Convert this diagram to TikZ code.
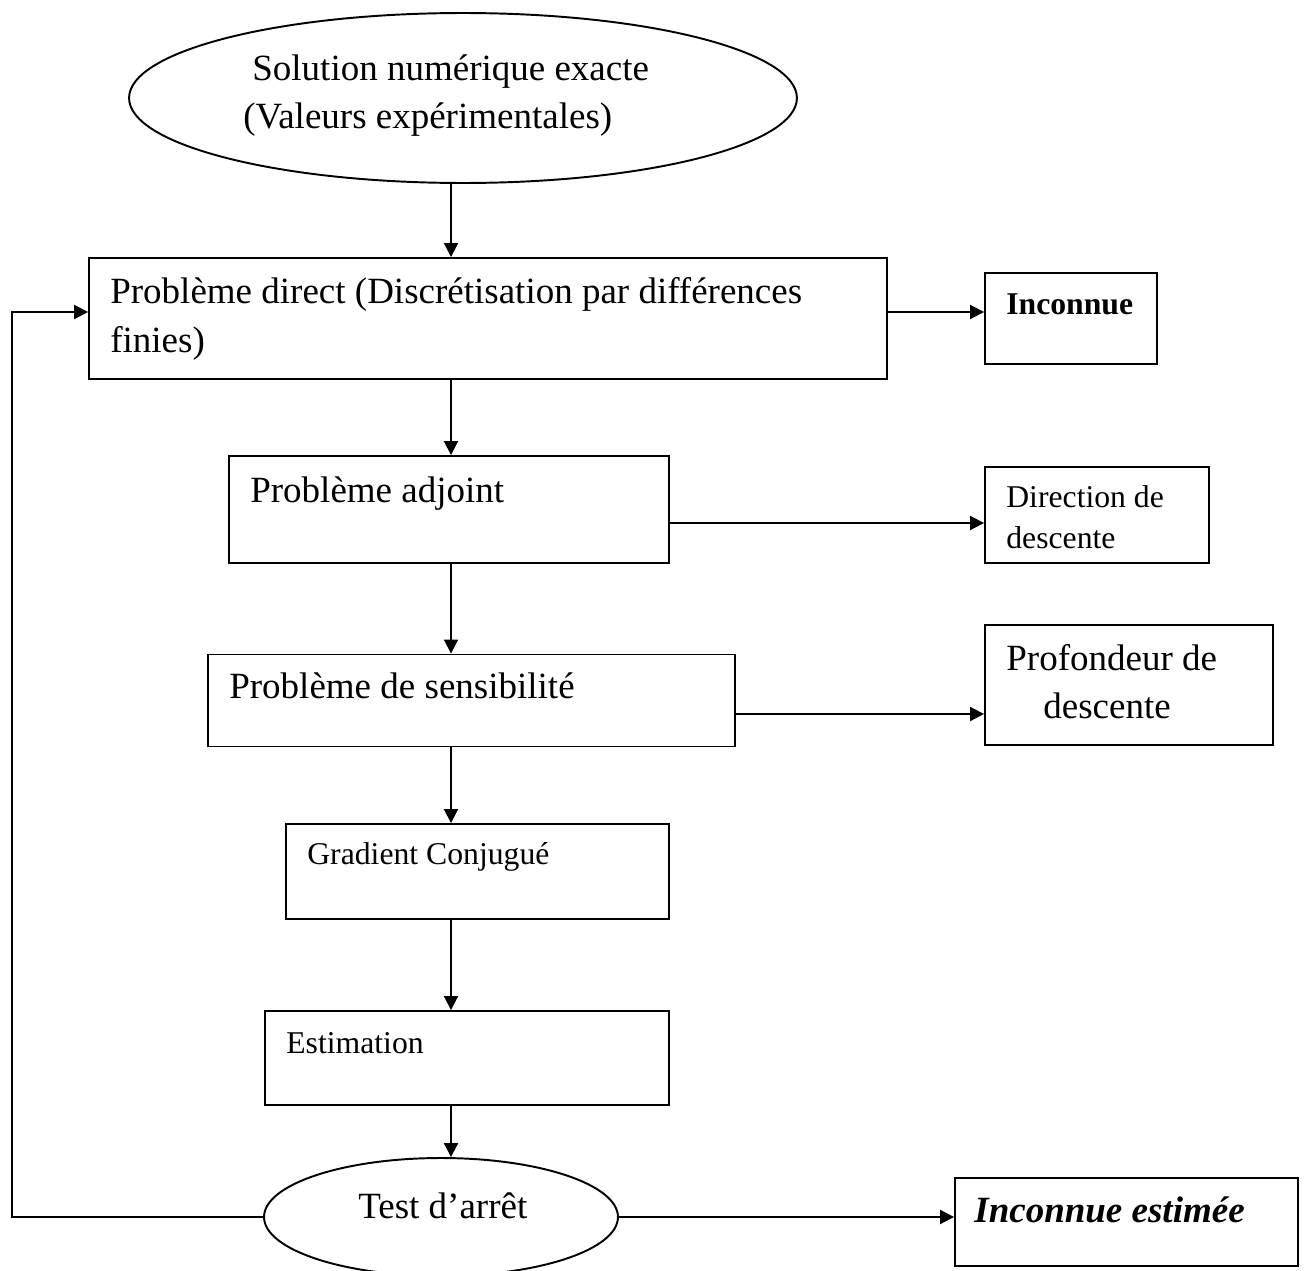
\documentclass[tikz,border=0pt]{standalone}
\usepackage{fontspec}
\setmainfont{Liberation Serif}
\usetikzlibrary{shapes.geometric,arrows.meta}

\newcommand{\bigfnt}{\fontsize{21.06}{27.9}\selectfont}
\newcommand{\smallfnt}{\fontsize{18.04}{23.3}\selectfont}

\begin{document}
\begin{tikzpicture}[x=0.02cm, y=-0.02cm,
    box/.style={draw, rectangle, line width=1.1pt, inner sep=0pt},
    oval/.style={draw, ellipse, line width=1.1pt, inner sep=0pt},
    lbl/.style={inner sep=0pt, anchor=base west, font=\bigfnt},
    slbl/.style={inner sep=0pt, anchor=base west, font=\smallfnt},
    flow/.style={line width=1.1pt, -{Triangle[length=0.28cm,width=0.28cm]}}]
    \useasboundingbox (0,0) rectangle (1306,1271);

    % shapes
    \node[oval, minimum width=13.36cm, minimum height=3.4cm] at (463,98) (sol) {};
    \node[box, minimum width=15.96cm, minimum height=2.42cm] at (488,318.5) (direct) {};
    \node[box, minimum width=3.44cm, minimum height=1.82cm] at (1071,318.5) (inc) {};
    \node[box, minimum width=8.8cm, minimum height=2.14cm] at (449,509.5) (adj) {};
    \node[box, minimum width=4.48cm, minimum height=1.92cm] at (1097,515) (dir) {};
    \node[box, minimum width=10.54cm, minimum height=1.84cm] at (471.5,700.5) (sens) {};
    \node[box, minimum width=5.76cm, minimum height=2.4cm] at (1129,685) (prof) {};
    \node[box, minimum width=7.66cm, minimum height=1.9cm] at (477.5,871.5) (grad) {};
    \node[box, minimum width=8.08cm, minimum height=1.88cm] at (467,1058) (est) {};
    \node[oval, minimum width=7.08cm, minimum height=2.36cm] at (441,1217) (test) {};
    \node[box, minimum width=6.86cm, minimum height=1.76cm] at (1126.5,1222) (incest) {};

    % texts, one node per line
    \node[lbl] at (252,80) (tsolA) {Solution numérique exacte};
    \node[lbl] at (243,128) (tsolB) {(Valeurs expérimentales)};
    \node[lbl] at (110,303) (tdirectA) {Problème direct (Discrétisation par différences};
    \node[lbl] at (110,352) (tdirectB) {finies)};
    \node[slbl] at (1006,314) (tinc) {\bfseries Inconnue};
    \node[lbl] at (250,502) (tadj) {Problème adjoint};
    \node[slbl] at (1006,507) (tdirA) {Direction de};
    \node[slbl] at (1006,548) (tdirB) {descente};
    \node[lbl] at (229,698) (tsens) {Problème de sensibilité};
    \node[lbl] at (1006,670) (tprofA) {Profondeur de};
    \node[lbl] at (1043,718) (tprofB) {descente};
    \node[slbl] at (307,864) (tgrad) {Gradient Conjugué};
    \node[slbl] at (286,1053) (test-t) {Estimation};
    \node[lbl] at (358,1218) (ttest) {Test d’arrêt};
    \node[lbl] at (974,1222) (tincest) {\bfseries\itshape Inconnue estimée};

    % helper coordinates
    \coordinate (sp) at (451,0);
    \coordinate (r1) at (0,312);
    \coordinate (r2) at (0,523);
    \coordinate (r3) at (0,714);
    \coordinate (fb) at (12,312);

    % connectors
    \draw[flow] (sol.south -| sp) -- (direct.north -| sp);
    \draw[flow] (direct.south -| sp) -- (adj.north -| sp);
    \draw[flow] (adj.south -| sp) -- (sens.north -| sp);
    \draw[flow] (sens.south -| sp) -- (grad.north -| sp);
    \draw[flow] (grad.south -| sp) -- (est.north -| sp);
    \draw[flow] (est.south -| sp) -- (test.north -| sp);
    \draw[flow] (direct.east |- r1) -- (inc.west |- r1);
    \draw[flow] (adj.east |- r2) -- (dir.west |- r2);
    \draw[flow] (sens.east |- r3) -- (prof.west |- r3);
    \draw[flow] (test.east) -- (incest.west |- test.east);
    \draw[flow] (test.west) -| (fb) -- (direct.west |- fb);
\end{tikzpicture}
\end{document}
